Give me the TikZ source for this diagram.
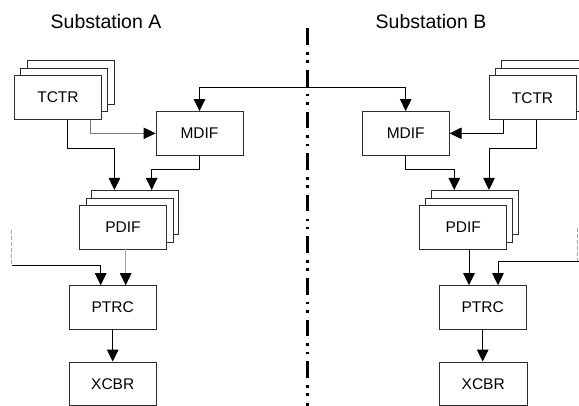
\documentclass[tikz,border=0pt]{standalone}
\usepackage{fontspec}
\setmainfont{Liberation Sans}
\usetikzlibrary{arrows.meta}
\definecolor{boxline}{RGB}{45,45,45}
\definecolor{greyA}{RGB}{120,120,120}
\definecolor{greyB}{RGB}{165,165,165}
\begin{document}
\begin{tikzpicture}[x=1pt,y=-1pt,
  box/.style={draw=boxline, fill=white, line width=0.9pt, minimum width=87pt, minimum height=43.6pt, inner sep=0pt, font=\fontsize{15.5}{18}\selectfont},
  tip/.tip={Triangle[length=12pt,width=11.5pt,color=black]},
  conn/.style={line width=0.9pt, -tip},
  title/.style={font=\fontsize{19.5}{22}\selectfont, inner sep=0pt}]
\clip (0,0) rectangle (579,405);
\fill[white] (0,0) rectangle (579,405);
% titles
\node[title] (titA) at (106,22) {Substation A};
\node[title] (titB) at (431,22) {Substation B};
% dash-dot separator
\coordinate (sepT) at (307.7,28.4);
\coordinate (sepB) at (307.7,410);
\draw[line width=2.6pt, dash pattern=on 16.6pt off 7.1pt on 2.6pt off 5.7pt on 2.6pt off 7pt] (sepT) -- (sepB);
% ---------- Substation A ----------
\node[box] (tctrAb) at (70.5,82.5) {};
\node[box] (tctrAm) at (64.2,90) {};
\node[box] (tctrAf) at (58,97.5) {TCTR};
\node[box] (mdifA) at (199.5,133.3) {MDIF};
\node[box] (pdifAb) at (135.4,212.2) {};
\node[box] (pdifAm) at (129.5,220.3) {};
\node[box] (pdifAf) at (123,227.2) {PDIF};
\node[box, minimum width=86.7pt, minimum height=43.3pt] (ptrcA) at (112.7,307.3) {PTRC};
\node[box, minimum width=86.7pt, minimum height=43.3pt] (xcbrA) at (112.7,383.7) {XCBR};
% ---------- Substation B ----------
\node[box] (tctrBb) at (544.8,82.4) {};
\node[box] (tctrBm) at (538.8,90) {};
\node[box] (tctrBf) at (532.5,97.7) {TCTR};
\node[box] (mdifB) at (405.7,133.3) {MDIF};
\node[box] (pdifBb) at (475.2,212.2) {};
\node[box] (pdifBm) at (469.4,220.3) {};
\node[box] (pdifBf) at (463.3,227.2) {PDIF};
\node[box, minimum width=86.7pt, minimum height=43.3pt] (ptrcB) at (482.7,307.3) {PTRC};
\node[box, minimum width=87.7pt, minimum height=43.3pt] (xcbrB) at (483.2,383.7) {XCBR};
% ---------- link between MDIFs ----------
\draw[line width=0.9pt, tip-tip]
  (mdifA.north) -- (mdifA.north |- 0,87.7) -- (mdifB.north |- 0,87.7) -- (mdifB.north);
% ---------- connectors A ----------
\draw[conn, draw=greyA] ([xshift=32.3pt]tctrAf.south) |- (mdifA.west);
\draw[conn] ([xshift=9pt]tctrAf.south) -- ++(0,29) -| ([xshift=-21pt]pdifAb.north);
\draw[conn] (mdifA.south) -- ++(0,14) -| ([xshift=16.3pt]pdifAb.north);
\draw[conn, draw=greyB] ([xshift=2.7pt]pdifAf.south) -- ([xshift=13pt]ptrcA.north);
\coordinate (extA) at (11.7,230);
\coordinate (extAc) at (11.7,265);
\draw[greyB, line width=0.9pt, dash pattern=on 4pt off 2pt] (extA) -- (extAc);
\draw[conn] (extAc) -| ([xshift=-12pt]ptrcA.north);
\draw[conn] (ptrcA.south) -- (xcbrA.north);
% ---------- connectors B ----------
\draw[conn] ([xshift=-29.2pt]tctrBf.south) |- (mdifB.east);
\draw[conn] ([xshift=4.2pt]tctrBf.south) -- ++(0,28) -| ([xshift=13.8pt]pdifBb.north);
\draw[conn] (mdifB.south) -- ++(0,14) -| ([xshift=-20.9pt]pdifBb.north);
\draw[conn] ([xshift=5.7pt]pdifBf.south) -- ([xshift=-13.7pt]ptrcB.north);
\coordinate (extB) at (577.8,228);
\coordinate (extBc) at (577.8,261.7);
\coordinate (extBe) at (581,261.7);
\draw[greyB, line width=0.9pt, dash pattern=on 4pt off 2pt] (extB) -- (extBc);
\draw[conn] (extBe) -| ([xshift=15.3pt]ptrcB.north);
\draw[conn] (ptrcB.south) -- (ptrcB.south |- xcbrB.north);
\end{tikzpicture}
\end{document}
